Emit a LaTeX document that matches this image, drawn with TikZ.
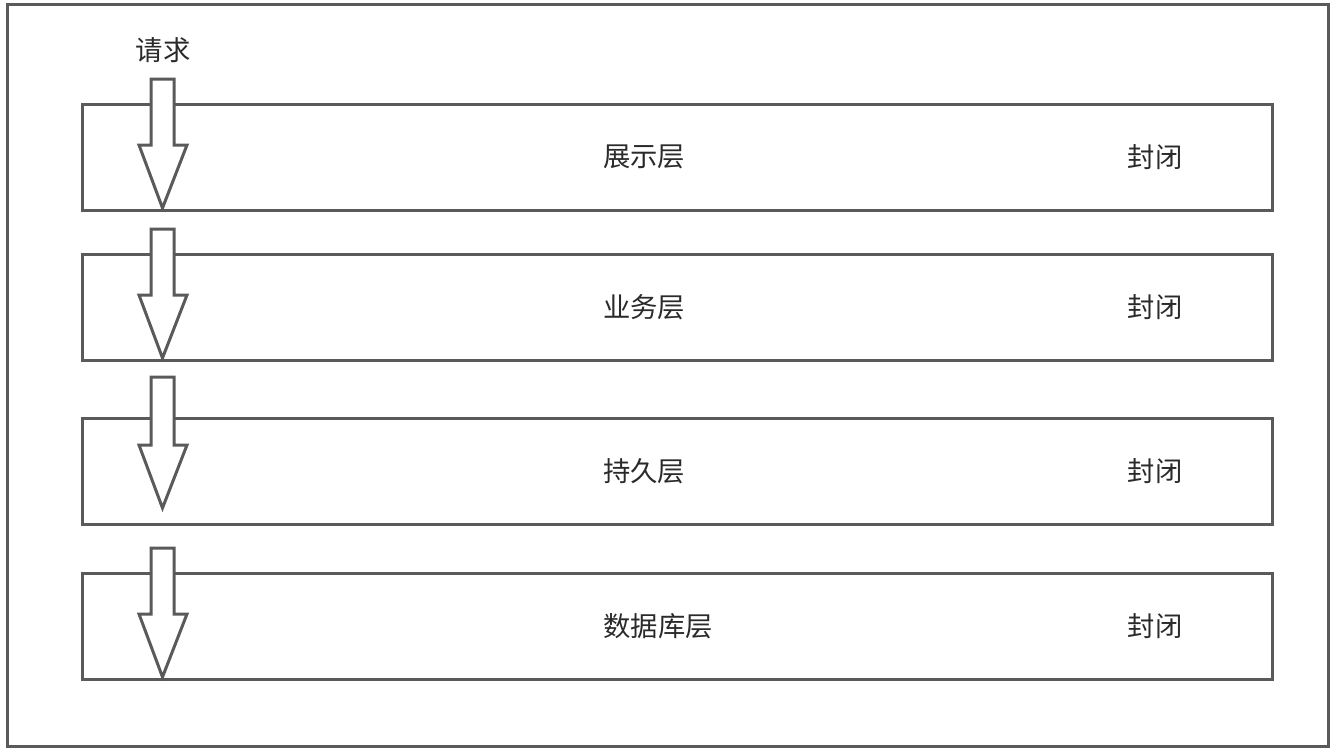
\documentclass[tikz,border=0pt]{standalone}
\usepackage{fontspec}
\setmainfont{Noto Sans CJK SC}
\definecolor{edge}{HTML}{5A5A5A}
\definecolor{ink}{HTML}{2A2A2A}
\begin{document}
\begin{tikzpicture}
    [x=0.75pt,y=-0.75pt,
     layer/.style={draw=edge,line width=2.25pt,minimum width=892.5pt,minimum height=79.5pt,inner sep=0pt},
     txt/.style={text=ink,font=\fontsize{20.5pt}{24pt}\selectfont,inner sep=0pt},
     blockarrow/.style={draw=edge,fill=white,line width=2.25pt,line join=miter}]
    \useasboundingbox (0,0) rectangle (1335,750);
    \draw [draw=edge,line width=2.25pt] (7,4) rectangle (1328,746);
    \node [layer] (show) at (677,157) {};
    \node [layer] (biz) at (677,307) {};
    \node [layer] (persist) at (677,471.5) {};
    \node [layer] (db) at (677,626) {};
    \node [txt] (t1) at (644,157) {展示层};
    \node [txt] (t2) at (644,307) {业务层};
    \node [txt] (t3) at (644,471) {持久层};
    \node [txt] (t4) at (658,626) {数据库层};
    \node [txt] (c1) at (1155,157) {封闭};
    \node [txt] (c2) at (1155,307) {封闭};
    \node [txt] (c3) at (1155,471) {封闭};
    \node [txt] (c4) at (1155,626) {封闭};
    \node [txt] (req) at (163,50) {请求};
    % block arrows
    \foreach \top/\tip in {79/208, 229/358, 377/508, 548/677}
      \draw [blockarrow] (151,\top) -- (174,\top) -- (174,\tip-63) -- (187,\tip-63)
        -- (162.5,\tip) -- (139,\tip-63) -- (151,\tip-63) -- cycle;
  \end{tikzpicture}
\end{document}
